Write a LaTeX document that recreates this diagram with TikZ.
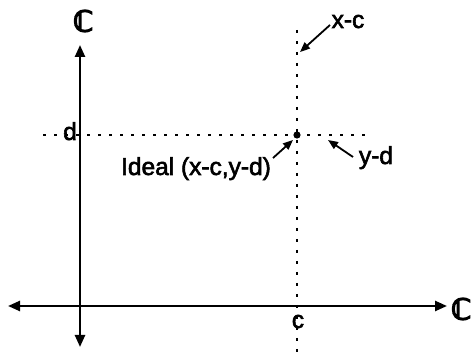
\documentclass[tikz,border=0pt]{standalone}
\usepackage{fontspec}
\setmainfont{Liberation Sans}[FakeBold=2.4]
\newfontfamily\dejavub{DejaVu Sans}[FakeBold=5]
\usetikzlibrary{arrows.meta}
\tikzset{
  axisline/.style={line width=2.4pt,{Triangle[length=12pt,width=10pt]}-{Triangle[length=12pt,width=10pt]}},
  dotline/.style={line width=2.6pt,dash pattern=on 2.6pt off 8.4pt},
  ptr/.style={line width=1.8pt,-{Triangle[length=10pt,width=8pt]}},
  lab/.style={inner sep=0pt,anchor=base,font=\fontsize{24.5}{28}\selectfont},
  cc/.style={inner sep=0pt,font=\fontsize{29}{31}\dejavub}
}
\begin{document}
\begin{tikzpicture}[x=1pt,y=-1pt]
\useasboundingbox (0,0) rectangle (472,352);
% axes
\coordinate (hl) at (8,306);
\coordinate (hr) at (447,306);
\coordinate (vt) at (80,45);
\coordinate (vb) at (80,347);
\draw[axisline] (hl) -- (hr);
\draw[axisline] (vb) -- (vt);
\node[cc] (ctop) at (83,21) {ℂ};
\node[cc] (cright) at (461,309) {ℂ};
% dotted lines
\coordinate (dl) at (43,135);
\coordinate (dr) at (365,135);
\coordinate (ct) at (297,30);
\coordinate (cb) at (297,352);
\draw[dotline] (dl) -- (dr);
\draw[dotline] (ct) -- (cb);
\fill (297,135) circle (3.6);
% labels
\node[lab] (d) at (70,140) {d};
\node[lab] (c) at (298,328) {c};
\node[lab] (xc) at (348,28) {x-c};
\node[lab] (yd) at (376,164) {y-d};
\node[lab] (ideal) at (196,175) {Ideal (x-c,y-d)};
% pointers
\coordinate (xcs) at (330,25);
\coordinate (xct) at (300,52);
\coordinate (yds) at (353,157);
\coordinate (ydt) at (328,140);
\coordinate (ids) at (273,158);
\coordinate (idt) at (293,140);
\draw[ptr] (xcs) -- (xct);
\draw[ptr] (yds) -- (ydt);
\draw[ptr] (ids) -- (idt);
\end{tikzpicture}
\end{document}
